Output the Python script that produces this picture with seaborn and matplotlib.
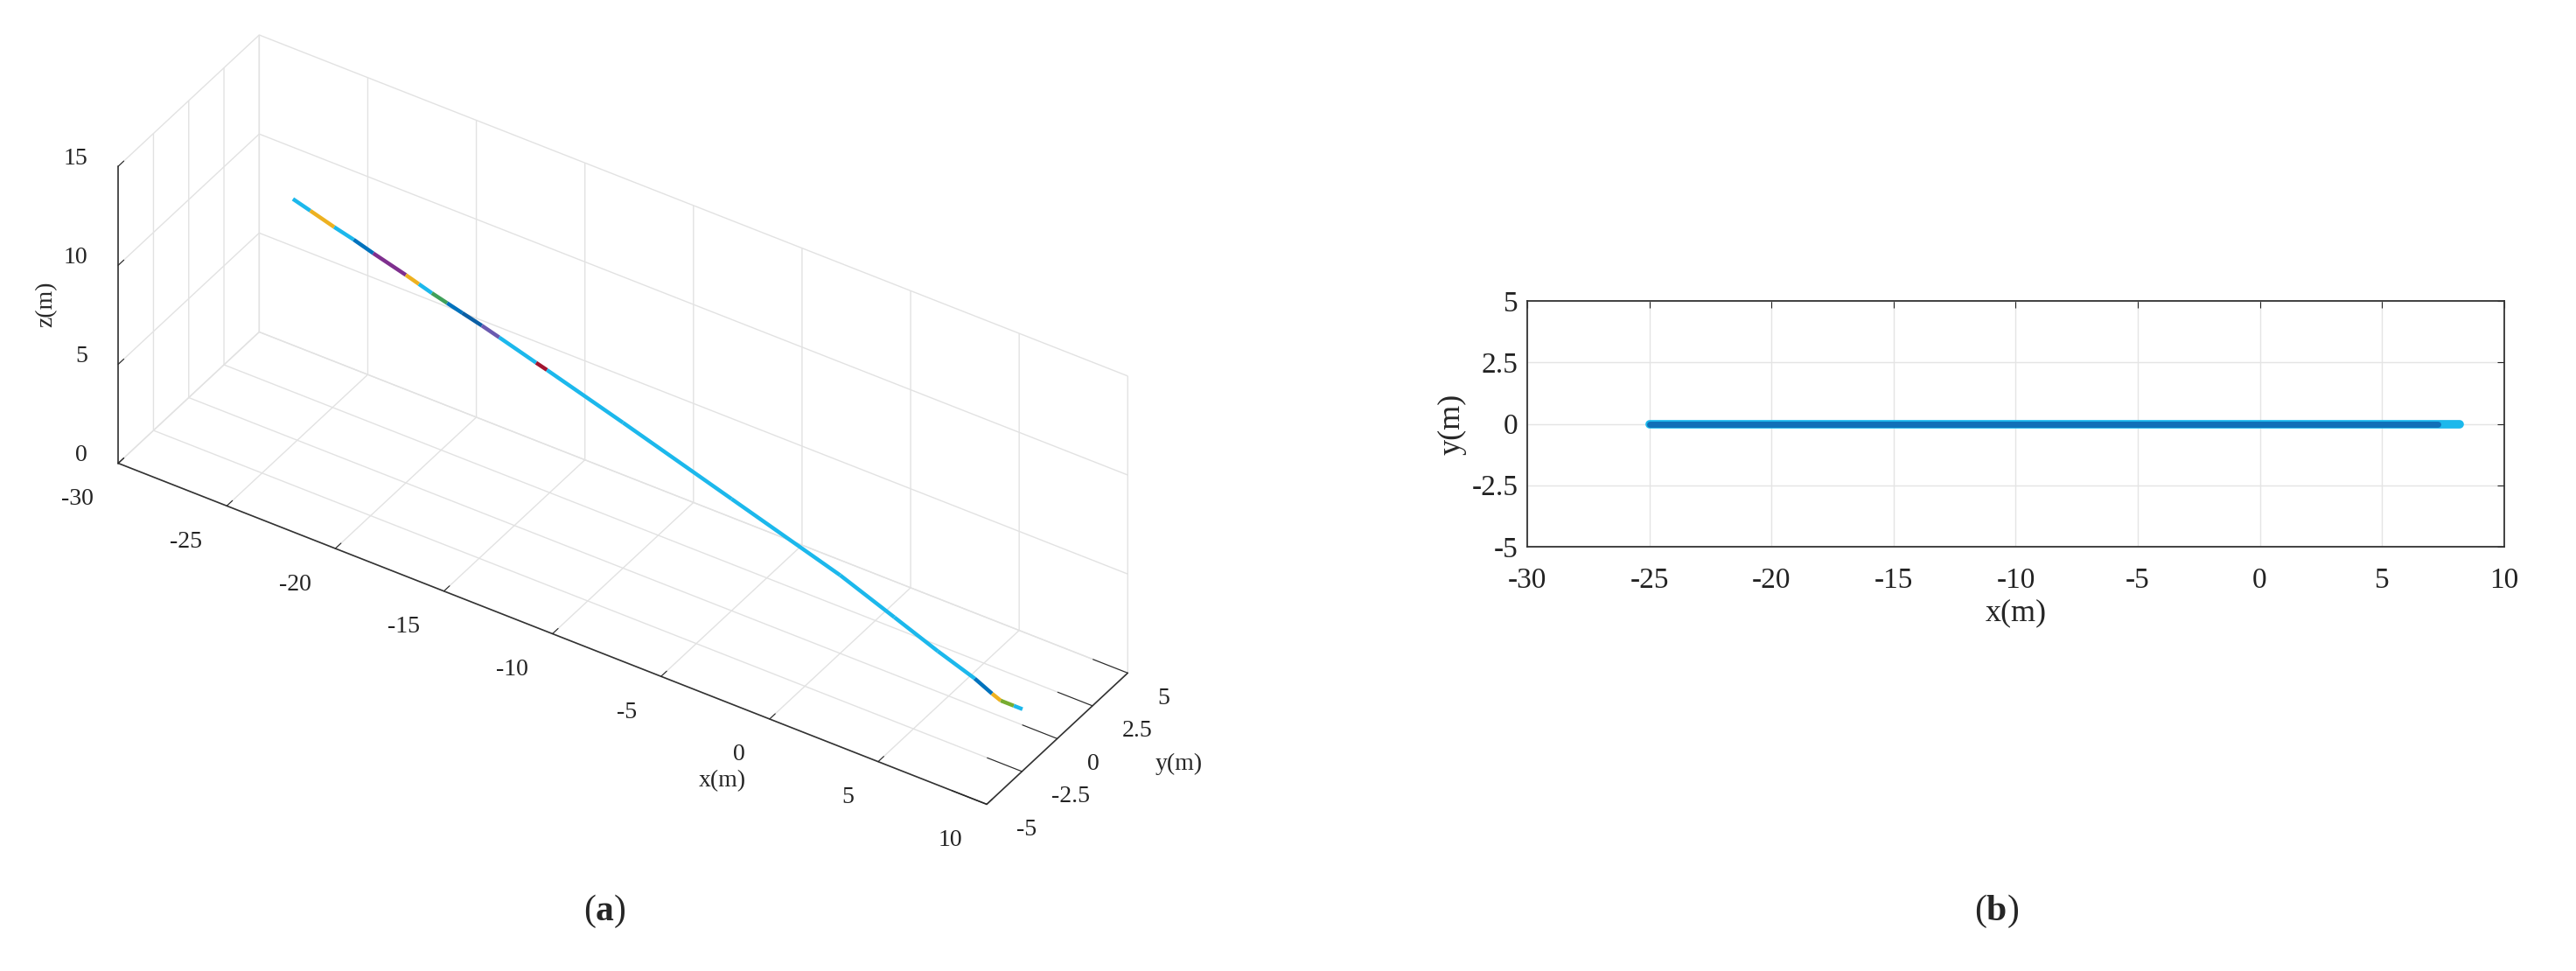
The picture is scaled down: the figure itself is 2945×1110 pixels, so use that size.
import matplotlib
matplotlib.use("Agg")
import matplotlib.pyplot as plt
import seaborn as sns
from mpl_toolkits.mplot3d import Axes3D, proj3d  # noqa: F401

# trajectory, metres
traj_x = [-25.2, -24.4, -23.3, -22.4, -21.5, -20.0, -19.4, -18.8, -18.1, -17.4,
          -16.5, -15.7, -14.0, -13.5, -10.0, -5.0, 0.0, 2.5, 4.5, 6.2,
          7.0, 7.4, 8.0, 8.4]
traj_y = [0.0, 0.0, 0.0, 0.0, 0.0, 0.0, 0.0, 0.0, 0.0, 0.0,
          0.0, 0.0, 0.0, 0.0, 0.0, 0.0, 0.0, 0.0, 0.0, 0.0,
          0.0, 0.0, 0.0, 0.0]
traj_z = [12.1, 11.85, 11.5, 11.25, 10.95, 10.5, 10.3, 10.1, 9.9, 9.7,
          9.45, 9.2, 8.65, 8.5, 7.35, 5.65, 3.95, 2.9, 2.05, 1.4,
          0.98, 0.8, 0.8, 0.8]
# colour of each piece between two points (overlapping runs)
seg_colors = ["#1CB8EC", "#EDB120", "#1CB8EC", "#0072BD", "#7E2F8E", "#EDB120",
              "#1CB8EC", "#3FA05A", "#0072BD", "#0B5FA5", "#6A5AB0", "#1CB8EC",
              "#A2142F", "#1CB8EC", "#1CB8EC", "#1CB8EC", "#1CB8EC", "#1CB8EC",
              "#1CB8EC", "#0072BD", "#EDB120", "#77AC30", "#1CB8EC"]

# panel (b) top view
top_x = [-25.0, 7.3, 8.2]
top_y = [0.0, 0.0, 0.0]

x_ticks = [-30, -25, -20, -15, -10, -5, 0, 5, 10]
y_ticks = [-5, -2.5, 0, 2.5, 5]
y_tick_labels = ["-5", "-2.5", "0", "2.5", "5"]
z_ticks = [0, 5, 10, 15]

sns.set_style("white")
plt.rcParams["font.family"] = ["Liberation Serif", "DejaVu Serif"]
plt.rcParams["mathtext.fontset"] = "custom"
plt.rcParams["mathtext.rm"] = "Liberation Serif"
plt.rcParams["mathtext.bf"] = "Liberation Serif:bold"
plt.rcParams["axes.unicode_minus"] = False
plt.rcParams["grid.color"] = "#E2E2E2"
plt.rcParams["grid.linewidth"] = 1.0

fig = plt.figure(figsize=(29.45, 11.1), dpi=100)

# (a) 3-D view
ax = fig.add_axes([0.002, 0.08, 0.47, 0.95], projection="3d")
ax.set_proj_type("ortho")
ax.view_init(elev=37.2, azim=-57)
ax.set_box_aspect((40, 10, 14.4), zoom=1.19)
for i, c in enumerate(seg_colors):
    ax.plot(traj_x[i:i + 2], traj_y[i:i + 2], traj_z[i:i + 2], color=c, lw=3.2,
            solid_capstyle="butt")
ax.set_xlim(-30, 10)
ax.set_ylim(-5, 5)
ax.set_zlim(0, 15)
ax.set_xticks(x_ticks)
ax.set_yticks(y_ticks)
ax.set_zticks(z_ticks)
ax.zaxis.set_ticks_position("lower")
for axis in (ax.xaxis, ax.yaxis, ax.zaxis):
    axis.set_tick_params(labelbottom=False, labeltop=False)
ax.grid(True)
for axis in (ax.xaxis, ax.yaxis, ax.zaxis):
    axis.set_pane_color((1, 1, 1, 0))
    axis.pane.set_edgecolor("#DADADA")
    axis.line.set_color("#333333")
    axis.line.set_linewidth(1.2)
    axis._axinfo["tick"]["inward_factor"] = 0.0
    axis._axinfo["tick"]["outward_factor"] = 0.5
    axis._axinfo["tick"]["color"] = "#333333"
    axis._axinfo["grid"]["color"] = "#E2E2E2"

# tick labels set out MATLAB-like, beside the tick ends
fig.canvas.draw()
lab_kw = dict(fontsize=20, color="#222222", va="center", xycoords="data",
              textcoords="offset pixels", annotation_clip=False)


def tick_label(p, s, off, ha):
    xs, ys, _ = proj3d.proj_transform(p[0], p[1], p[2], ax.M)
    ax.annotate(s, xy=(xs, ys), xytext=off, ha=ha, **lab_kw)


for v in x_ticks:
    tick_label((v, -5, 0), str(v), (-28, -41), "right")
for v, s in zip(y_ticks, y_tick_labels):
    tick_label((10, v, 0), s, (34, -29), "left")
for v in z_ticks:
    tick_label((-30, -5, v), str(v), (-35, 9), "right")

fig.text(0.018, 0.687, "z(m)", rotation=90, fontsize=20, ha="center", va="center")
fig.text(0.2805, 0.196, "x(m)", fontsize=20, ha="center", va="center")
fig.text(0.4577, 0.2135, "y(m)", fontsize=20, ha="center", va="center")

# (b) top view
axb = fig.add_axes([0.593, 0.437, 0.379, 0.253])
sns.lineplot(x=top_x, y=top_y, ax=axb, color="#1CB8EC", lw=7, sort=False)
sns.lineplot(x=top_x[:2], y=top_y[:2], ax=axb, color="#1170B8", lw=5, sort=False)
axb.set_xlim(-30, 10)
axb.set_ylim(-5, 5)
axb.set_xticks(x_ticks)
axb.set_yticks(y_ticks)
axb.set_yticklabels(y_tick_labels)
axb.grid(True, color="#E4E4E4", lw=1.0)
axb.tick_params(direction="in", length=6, top=True, right=True, labelsize=24,
                colors="#222222")
axb.tick_params(axis="x", pad=17)
axb.tick_params(axis="y", pad=8)
for s in axb.spines.values():
    s.set_visible(True)
    s.set_color("#333333")
    s.set_linewidth(1.3)
axb.set_xlabel("x(m)", fontsize=26, labelpad=4)
axb.set_ylabel("y(m)", fontsize=26)

fig.text(0.2346, 0.061, r"($\mathbf{a}$)", fontsize=30, ha="center", va="center")
fig.text(0.775, 0.061, r"($\mathbf{b}$)", fontsize=30, ha="center", va="center")

fig.savefig("out.png", dpi=100)
